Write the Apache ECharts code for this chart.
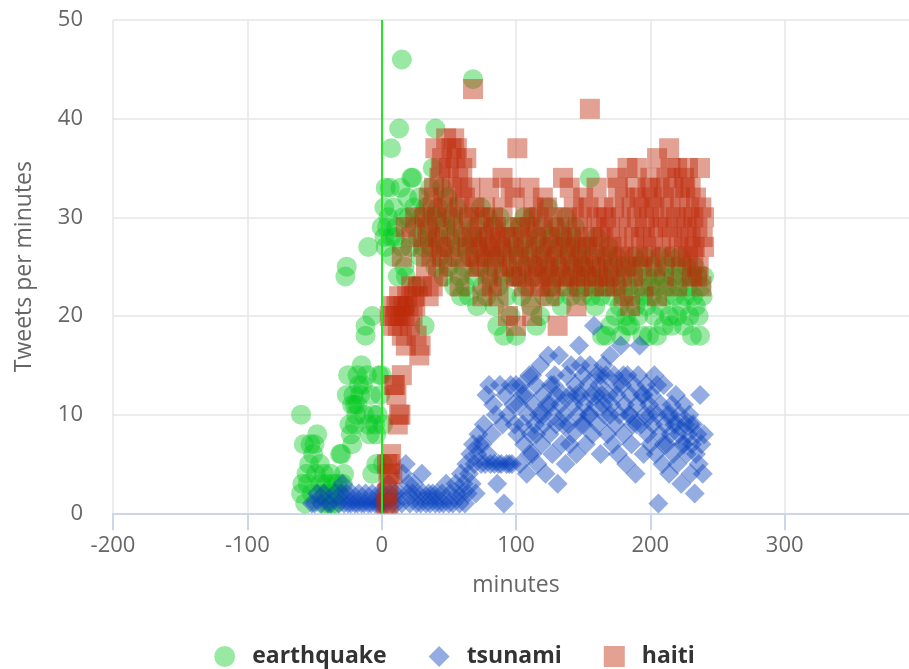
<!DOCTYPE html>
<html>
<head>
<meta charset="utf-8">
<script src="https://cdn.jsdelivr.net/npm/echarts@6/dist/echarts.min.js"></script>
<style>
html,body{margin:0;padding:0;background:#fff;}
#chart{width:909px;height:669px;}
</style>
</head>
<body>
<div id="chart"></div>
<script>
var seriesNames = ['earthquake', 'tsunami', 'haiti'];
var xTicks = [-200, -100, 0, 100, 200, 300];
var yTicks = [0, 10, 20, 30, 40, 50];

var earthquake = [
[-60,10],[-60,2],[-59,3],[-58,7],[-57,1],[-56,4],[-55,3],[-54,5],[-53,7],[-52,2],[-51,6],[-50,7],[-49,4],[-48,8],[-47,2],[-46,5],[-45,3],[-44,1],[-43,4],[-42,2],[-41,3],[-40,1],[-39,2],[-38,4],[-37,1],[-36,3],[-35,2],[-34,1],[-33,3],[-32,2],[-31,6],
[-30,6],[-29,3],[-28,4],[-27,24],[-26,25],[-26,12],[-25,14],[-24,9],[-23,8],[-22,7],[-21,12],[-20,11],[-19,10],[-18,11],[-17,13],[-16,12],[-15,15],[-14,13],[-13,10],[-12,18],[-11,14],[-10,27],[-10,9],[-9,8],[-8,12],[-7,20],[-7,4],[-6,10],[-5,9],[-4,8],[-4,5],[-3,10],[-2,14],[-1,12],[-12,19],[-18,14],[-22,11],[-20,9],
[0,29],[0,14],[1,9],[1,5],[2,31],[2,28],[3,33],[3,27],[4,29],[5,30],[6,33],[7,37],[7,28],[8,26],[9,31],[10,28],[11,29],[12,24],[13,39],[14,33],[15,46],[15,27],[16,30],[17,25],[18,24],[18,21],[19,32],[20,30],[21,27],[22,34],[23,34],[24,31],[25,29],[26,23],[27,28],[28,32],[29,26],[30,30],[31,27],[32,19],[33,31],[34,28],[35,29],[36,33],[37,27],[38,35],[39,30],[40,39],[40,25],
[41,28],[42,31],[43,26],[44,30],[45,33],[46,24],[47,27],[48,29],[49,32],[50,25],[51,28],[52,30],[53,26],[54,23],[55,29],[56,31],[57,27],[58,24],[59,22],[60,28],
[61,25],[62,23],[63,27],[64,30],[65,22],[66,26],[68,44],[68,28],[69,24],[70,29],[71,21],[72,27],[73,25],[74,31],[75,23],[76,26],[77,28],[78,22],[79,30],[80,24],[81,27],[82,25],[83,29],[84,21],[85,26],[86,19],[87,23],[88,30],[89,24],[90,27],[91,18],[92,26],[93,22],[94,28],[95,25],[96,20],[97,29],[98,24],[99,27],[100,18],
[101,24],[102,26],[103,29],[104,22],[105,27],[106,30],[107,25],[108,23],[109,28],[110,26],[111,21],[112,30],[113,24],[114,27],[115,19],[116,25],[117,28],[118,20],[119,26],[120,29],[121,22],[122,27],[123,24],[124,31],[125,25],[126,23],[127,28],[128,26],[129,22],[130,29],[131,24],[132,27],[133,25],[134,21],[135,28],[136,23],[137,30],[138,26],[139,24],[140,27],[141,22],[142,28],[143,25],[144,29],[145,23],[146,26],[147,24],[148,27],[149,22],[150,25],
[151,25],[152,23],[153,27],[154,24],[155,34],[156,22],[157,26],[158,24],[159,21],[160,28],[161,23],[162,25],[163,22],[164,18],[165,24],[166,26],[167,18],[168,23],[169,27],[170,19],[171,22],[172,25],[173,24],[174,20],[175,26],[176,23],[177,21],[178,18],[179,25],[180,22],[181,24],[182,20],[183,19],[184,23],[185,19],[186,25],[187,22],[188,26],[189,21],[190,24],[191,20],[192,23],[193,25],[194,18],[195,22],[196,26],[197,21],[198,24],[199,18],[200,23],
[201,22],[202,25],[203,20],[204,24],[205,18],[206,23],[207,26],[208,21],[209,24],[210,19],[211,22],[212,25],[213,23],[214,20],[215,26],[216,19],[217,24],[218,22],[219,25],[220,20],[221,23],[222,26],[223,21],[224,24],[225,19],[226,22],[227,25],[228,23],[229,20],[230,24],[231,18],[232,22],[233,25],[234,21],[235,24],[236,20],[237,18],[238,23],[239,22],[240,24]
];

var tsunami = [
[-52,1],[-50,1],[-48,2],[-45,1],[-43,2],[-40,1],[-38,1],[-35,2],[-32,1],[-30,2],[-29,3],[-28,1],[-26,2],[-25,1],[-23,1],[-22,2],[-20,1],[-18,1],[-17,2],[-15,1],[-13,1],[-12,2],[-10,1],[-8,1],[-7,2],[-5,1],[-3,1],[-2,2],[-1,1],
[0,1],[1,2],[2,1],[4,1],[5,3],[6,2],[8,1],[10,2],[11,1],[13,2],[15,1],[16,4],[18,5],[19,2],[20,3],[21,1],[23,2],[24,3],[26,1],[27,2],[29,1],[30,4],[31,2],[33,1],[35,2],[36,1],[38,2],[40,1],[41,2],[43,1],[45,2],[46,1],[48,3],[50,1],[51,2],[53,1],[55,3],[56,2],[58,1],[59,4],[60,2],
[61,3],[62,1],[63,5],[64,2],[65,4],[66,6],[67,3],[68,7],[69,5],[70,2],[71,6],[72,8],[73,7],[74,5],[75,7],[76,9],[77,5],[78,12],[79,6],[80,13],[81,5],[82,8],[83,11],[84,5],[85,10],[86,3],[87,5],[88,13],[89,5],[90,9],[91,1],[92,12],[93,5],[94,10],[95,5],[96,13],[97,5],[98,11],[99,9],[100,13],
[101,8],[102,11],[103,5],[104,13],[105,9],[106,7],[107,12],[108,4],[109,10],[110,14],[111,8],[112,6],[113,11],[114,9],[115,13],[116,5],[117,10],[118,15],[119,7],[120,12],[121,9],[122,4],[123,11],[124,16],[125,8],[126,13],[127,6],[128,10],[129,14],[130,9],[131,3],[132,16],[133,11],[134,7],[135,12],[136,10],[137,5],[138,14],[139,9],[140,12],[141,15],[142,8],[143,11],[144,13],[145,6],[146,10],[147,17],[148,12],[149,9],[150,14],[151,11],[152,7],[153,13],[154,10],[155,15],[156,12],[157,8],[158,19],[159,11],[160,14],[161,9],[162,13],[163,6],[164,12],[165,15],[166,10],[167,14],[168,8],[169,12],[170,16],
[105,12],[115,8],[125,11],[135,9],[145,12],[155,10],[165,11],[110,6],[120,10],[130,12],[140,7],[150,9],[160,12],[170,10],[112,14],[128,13],[148,15],[163,14],
[171,11],[172,7],[173,14],[174,9],[175,12],[176,6],[177,10],[178,17],[179,13],[180,8],[181,11],[182,5],[183,14],[184,10],[185,12],[186,7],[187,9],[188,13],[189,4],[190,11],[191,14],[192,17],[193,9],[194,12],[195,6],[196,10],[197,13],[198,8],[199,11],[200,7],[201,12],[202,9],[203,14],[204,6],[205,10],[206,1],[207,8],[208,11],[209,5],[210,13],[211,9],[212,7],[213,10],[214,4],[215,8],[216,11],[217,6],[218,9],[219,12],[220,5],[221,8],[222,10],[223,3],[224,7],[225,11],[226,9],[227,6],[228,8],[229,10],[230,4],[231,7],[232,9],[233,2],[234,6],[235,8],[236,5],[237,12],[238,7],[239,4],[240,8],
[175,13],[185,10],[195,12],[200,10],[205,13],[210,7],[215,10],[220,9],[225,7],[230,9],[180,14],[190,9]
];

var haiti = [
[3,1],[4,2],[4,5],[5,1],[5,3],[6,4],[6,5],[7,6],[8,4],[9,13],[10,13],[11,12],[12,9],[13,10],[14,10],[15,14],[6,20],[8,19],[7,21],
[10,20],[11,21],[12,19],[13,22],[14,20],[15,18],[16,21],[17,20],[18,17],[19,22],[20,21],[21,19],[22,23],[23,20],[24,22],[25,21],[26,18],[27,23],[28,16],[29,17],[30,23],[18,29],[15,26],[22,28],[25,30],
[31,27],[32,30],[33,25],[34,29],[35,32],[36,28],[37,26],[38,31],[39,33],[40,37],[41,30],[42,28],[43,34],[44,27],[45,36],[46,32],[47,29],[48,38],[49,31],[50,35],[51,27],[52,33],[53,30],[54,38],[55,36],[56,28],[57,34],[58,31],[59,26],[60,35],[61,29],[62,32],[63,36],[64,27],[65,30],[66,33],[67,28],[68,43],[69,31],[70,26],
[35,22],[42,24],[50,25],[58,23],[65,25],[38,23],[45,26],[44,35],[52,37],[56,37],[60,33],
[71,28],[72,25],[73,30],[74,27],[75,22],[76,29],[77,31],[78,26],[79,24],[80,28],[81,27],[82,23],[83,30],[84,26],[85,29],[86,25],[87,22],[88,28],[89,27],[90,31],[91,24],[92,29],[93,26],[94,20],[95,28],[96,33],[97,25],[98,27],[99,32],[100,19],
[101,37],[102,26],[103,29],[104,24],[105,28],[106,23],[107,30],[108,27],[109,25],[110,29],[111,22],[112,26],[113,31],[114,24],[115,28],[116,25],[117,30],[118,23],[119,27],[120,29],[121,24],[122,26],[123,31],[124,25],[125,28],[126,23],[127,27],[128,30],[129,24],[130,26],[131,19],[132,29],[133,25],[134,28],[135,34],[136,24],[137,27],[138,30],[139,23],[140,26],[141,28],[142,25],[143,31],[144,24],[145,27],[146,29],[147,23],[148,26],[149,30],[150,25],
[151,28],[152,24],[153,27],[154,31],[155,41],[156,25],[157,28],[158,23],[159,26],[160,30],[161,24],[162,27],[163,29],[164,25],[165,28],[166,23],[167,30],[168,26],[169,24],[170,29],[171,27],[172,25],[173,31],[174,23],[175,28],[176,33],[177,26],[178,30],[179,24],[180,27],[181,32],[182,25],[183,35],[184,29],[185,26],[186,31],[187,24],[188,28],[189,33],[190,30],[191,26],[192,32],[193,28],[194,25],[195,31],[196,29],[197,27],[198,33],[199,30],[200,26],
[201,32],[202,28],[203,31],[204,25],[205,36],[206,29],[207,33],[208,27],[209,30],[210,32],[211,26],[212,34],[213,29],[214,37],[215,31],[216,28],[217,33],[218,26],[219,30],[220,35],[221,28],[222,32],[223,25],[224,30],[225,27],[226,33],[227,29],[228,26],[229,31],[230,28],[231,24],[232,30],[233,27],[234,32],[235,29],[236,25],[237,35],[238,31],[239,28],[240,30],
[175,34],[180,22],[190,35],[195,23],[200,34],[210,24],[215,35],[220,23],[225,34],[230,33],[235,24],[240,27],[185,21],[205,22],[228,35],[238,23],[232,26],[110,33],[120,32],[90,34],[80,33],[140,33],[150,32],[160,33],[165,31],[100,24],[125,22],[145,21],[112,20]
];

var chart = echarts.init(document.getElementById('chart'), null, {renderer: 'canvas'});
var FONT = '"Open Sans", "DejaVu Sans", sans-serif';
chart.setOption({
  animation: false,
  backgroundColor: '#ffffff',
  textStyle: {fontFamily: FONT},
  grid: {left: 113, top: 20, width: 806, height: 493.3, containLabel: false, outerBoundsMode: 'none'},
  legend: {
    data: seriesNames,
    top: 640,
    left: 'center',
    itemWidth: 21,
    itemHeight: 21,
    itemGap: 42,
    textStyle: {fontFamily: FONT, fontSize: 23, fontWeight: 'bold', color: '#333333', padding: [0, 0, 0, 12]}
  },
  xAxis: {
    type: 'value',
    min: -200,
    max: 400,
    interval: 100,
    name: 'minutes',
    nameLocation: 'middle',
    nameGap: 61,
    nameTextStyle: {fontFamily: FONT, fontSize: 23, color: '#666666'},
    axisLine: {show: true, onZero: false, lineStyle: {color: '#ccd6eb', width: 2}},
    axisTick: {show: true, length: 17, lineStyle: {color: '#ccd6eb', width: 2}},
    axisLabel: {fontFamily: FONT, fontSize: 22, color: '#666666', margin: 21, showMaxLabel: false},
    splitLine: {show: true, lineStyle: {color: '#e6e6e6', width: 1.5}}
  },
  yAxis: {
    type: 'value',
    min: 0,
    max: 50,
    interval: 10,
    name: 'Tweets per minutes',
    nameLocation: 'middle',
    nameGap: 77,
    nameTextStyle: {fontFamily: FONT, fontSize: 23, color: '#666666'},
    axisLine: {show: false},
    axisTick: {show: false},
    axisLabel: {fontFamily: FONT, fontSize: 22, color: '#666666', margin: 30},
    splitLine: {show: true, lineStyle: {color: '#e6e6e6', width: 1.5}}
  },
  series: [
    {
      name: seriesNames[0], type: 'scatter', symbol: 'circle', symbolSize: 20,
      itemStyle: {color: 'rgba(0,200,30,0.5)'},
      data: earthquake,
      markLine: {
        silent: true, symbol: 'none', label: {show: false},
        lineStyle: {color: '#22e622', width: 2, type: 'solid'},
        data: [{xAxis: 0}]
      }
    },
    {
      name: seriesNames[1], type: 'scatter', symbol: 'diamond', symbolSize: 20,
      itemStyle: {color: 'rgba(10,65,190,0.55)'},
      data: tsunami
    },
    {
      name: seriesNames[2], type: 'scatter', symbol: 'rect', symbolSize: 20,
      itemStyle: {color: 'rgba(190,40,10,0.55)'},
      data: haiti
    }
  ]
});
</script>
</body>
</html>
